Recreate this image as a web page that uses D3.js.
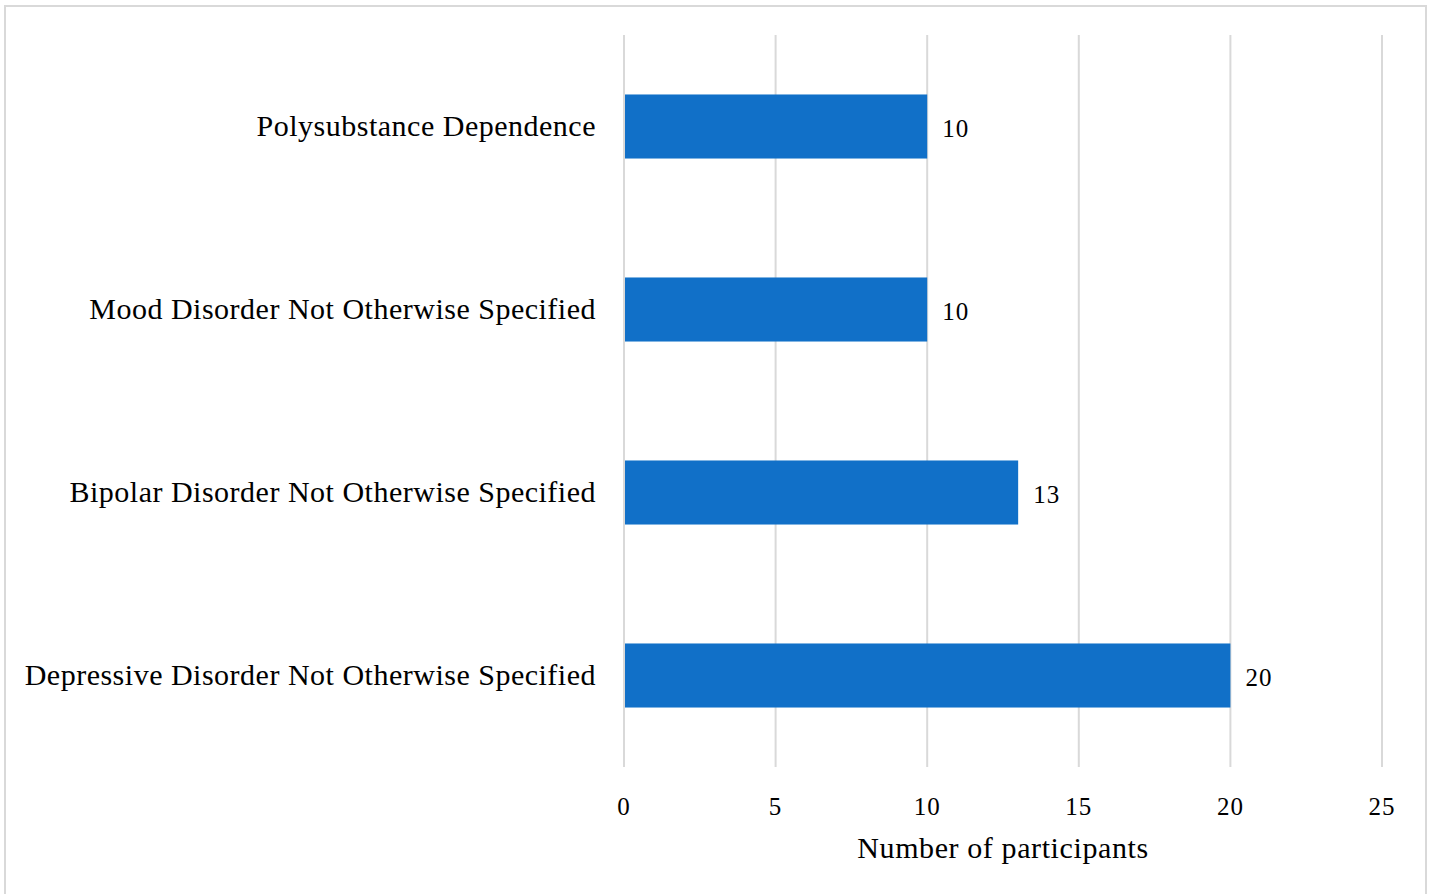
<!DOCTYPE html>
<html>
<head>
<meta charset="utf-8">
<script src="https://cdn.jsdelivr.net/npm/d3@7"></script>
<style>
  html, body { margin: 0; padding: 0; background: #fff; }
  svg { display: block; }
  text { font-family: "Liberation Serif", "DejaVu Serif", serif; fill: #000; }
</style>
</head>
<body>
<svg id="chart" width="1432" height="894"></svg>
<script>
// Diagnoses, drawn top to bottom
const categories = [
  "Polysubstance Dependence",
  "Mood Disorder Not Otherwise Specified",
  "Bipolar Disorder Not Otherwise Specified",
  "Depressive Disorder Not Otherwise Specified"
];
const participants = [10, 10, 13, 20];
const xTicks = [0, 5, 10, 15, 20, 25];
const axisTitle = "Number of participants";

const svg = d3.select("#chart");

// outer frame
svg.append("rect")
  .attr("x", 5).attr("y", 6)
  .attr("width", 1421).attr("height", 894)
  .attr("fill", "none")
  .attr("stroke", "#d9d9d9")
  .attr("stroke-width", 2);

const x = d3.scaleLinear().domain([0, 25]).range([624, 1382]);
const y = d3.scaleBand().domain(categories).range([35, 767])
  .paddingInner(0.65).paddingOuter(0.325);

// vertical gridlines
svg.append("g").selectAll("line")
  .data(xTicks)
  .join("line")
  .attr("x1", d => x(d)).attr("x2", d => x(d))
  .attr("y1", 35).attr("y2", 767)
  .attr("stroke", "#d9d9d9")
  .attr("stroke-width", 2);

// bars
svg.append("g").selectAll("rect")
  .data(categories)
  .join("rect")
  .attr("x", x(0) + 1)
  .attr("y", d => y(d))
  .attr("width", (d, i) => x(participants[i]) - x(0) - 1)
  .attr("height", y.bandwidth())
  .attr("fill", "#1170c8");

// value labels
svg.append("g").selectAll("text")
  .data(categories)
  .join("text")
  .attr("x", (d, i) => x(participants[i]) + 15)
  .attr("y", d => y(d) + y.bandwidth() / 2 + 10)
  .attr("font-size", 25)
  .attr("letter-spacing", 1)
  .text((d, i) => participants[i]);

// category labels
svg.append("g").selectAll("text")
  .data(categories)
  .join("text")
  .attr("x", 596)
  .attr("y", d => y(d) + y.bandwidth() / 2 + 9)
  .attr("text-anchor", "end")
  .attr("font-size", 30)
  .attr("letter-spacing", 0.5)
  .text(d => d);

// x tick labels
svg.append("g").selectAll("text")
  .data(xTicks)
  .join("text")
  .attr("x", d => x(d))
  .attr("y", 815)
  .attr("text-anchor", "middle")
  .attr("font-size", 25)
  .attr("letter-spacing", 1)
  .text(d => d);

// axis title
svg.append("text")
  .attr("x", 1003)
  .attr("y", 858)
  .attr("text-anchor", "middle")
  .attr("font-size", 30)
  .attr("letter-spacing", 0.6)
  .text(axisTitle);
</script>
</body>
</html>
